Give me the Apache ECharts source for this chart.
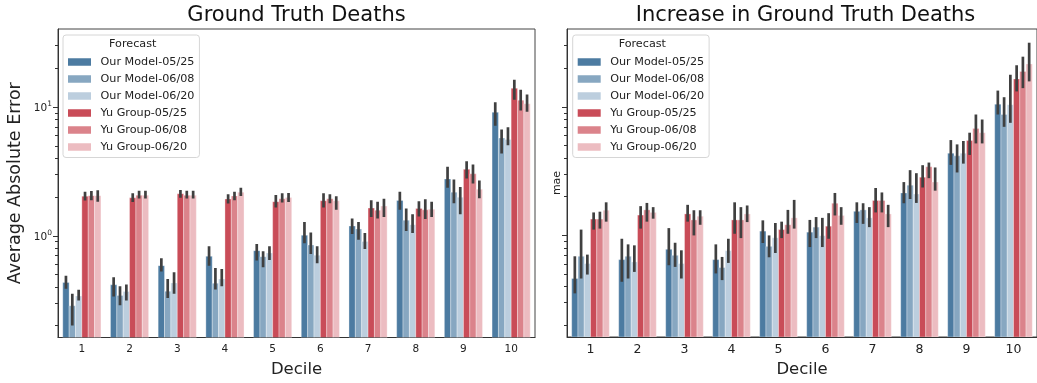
<!DOCTYPE html>
<html>
<head>
<meta charset="utf-8">
<script src="https://cdn.jsdelivr.net/npm/echarts@6/dist/echarts.min.js"></script>
<style>
html,body{margin:0;padding:0;background:#fff;}
#chart{width:1037px;height:383px;}
</style>
</head>
<body>
<div id="chart"></div>
<script>
// ---------- data ----------
const deciles = ['1','2','3','4','5','6','7','8','9','10'];
const seriesNames = ['Our Model-05/25','Our Model-06/08','Our Model-06/20','Yu Group-05/25','Yu Group-06/08','Yu Group-06/20'];
const seriesColors = ['#4c7ba1','#87a7c1','#bccede','#c94c58','#db838b','#ecbcc1'];
const majorTicks = [1, 10];
const minorTicks = [0.2,0.3,0.4,0.5,0.6,0.7,0.8,0.9,2,3,4,5,6,7,8,9,20,30];

// Ground Truth Deaths (mean, CI low, CI high)
const gtOM0525   = [0.433,0.416,0.586,0.692,0.766,1.01,1.19,1.88,2.76,9.10];
const gtOM0525Lo = [0.387,0.338,0.527,0.586,0.641,0.873,1.03,1.59,2.36,7.17];
const gtOM0525Hi = [0.49,0.476,0.668,0.828,0.863,1.28,1.36,2.20,3.44,10.9];
const gtOM0608   = [0.286,0.344,0.371,0.428,0.688,0.847,1.13,1.32,2.18,5.75];
const gtOM0608Lo = [0.201,0.288,0.328,0.382,0.569,0.721,0.931,1.09,1.79,4.35];
const gtOM0608Hi = [0.354,0.406,0.462,0.562,0.757,1.06,1.28,1.63,2.74,6.68];
const gtOM0620   = [0.34,0.369,0.43,0.462,0.734,0.705,0.904,1.22,1.99,5.59];
const gtOM0620Lo = [0.314,0.314,0.354,0.406,0.648,0.611,0.789,1.05,1.47,5.05];
const gtOM0620Hi = [0.38,0.418,0.52,0.552,0.828,0.828,1.05,1.47,2.39,6.96];
const gtYG0525   = [2.03,1.97,2.12,1.93,1.84,1.87,1.64,1.63,3.28,14.0];
const gtYG0525Lo = [1.88,1.83,1.97,1.78,1.66,1.66,1.40,1.41,2.79,11.4];
const gtYG0525Hi = [2.20,2.14,2.27,2.10,2.07,2.14,1.89,1.85,3.80,16.3];
const gtYG0608   = [2.05,2.06,2.06,2.04,1.94,1.94,1.58,1.59,3.03,11.3];
const gtYG0608Lo = [1.89,1.95,1.95,1.89,1.81,1.79,1.36,1.35,2.55,9.42];
const gtYG0608Hi = [2.23,2.24,2.24,2.20,2.14,2.10,1.84,1.92,3.58,13.6];
const gtYG0620   = [2.05,2.06,2.06,2.18,1.98,1.87,1.70,1.61,2.30,10.6];
const gtYG0620Lo = [1.84,1.95,1.95,2.04,1.83,1.59,1.40,1.40,1.96,9.2];
const gtYG0620Hi = [2.26,2.24,2.24,2.36,2.15,2.03,1.94,1.84,2.69,12.5];

// Increase in Ground Truth Deaths
const incOM0525   = [0.462,0.648,0.780,0.648,1.08,1.06,1.54,2.14,4.36,10.5];
const incOM0525Lo = [0.354,0.436,0.586,0.506,0.873,0.812,1.25,1.78,3.54,8.73];
const incOM0525Hi = [0.688,0.942,1.14,0.852,1.31,1.32,1.81,2.60,5.52,13.4];
const incOM0608   = [0.688,0.688,0.700,0.562,0.822,1.16,1.58,2.46,4.16,8.73];
const incOM0608Lo = [0.462,0.462,0.569,0.449,0.676,0.953,1.23,1.92,3.09,7.0];
const incOM0608Hi = [1.11,0.852,0.877,0.680,1.0,1.39,1.78,3.22,5.11,11.9];
const incOM0620   = [0.604,0.622,0.604,0.761,0.959,0.995,1.37,2.10,4.36,10.4];
const incOM0620Lo = [0.496,0.520,0.462,0.611,0.730,0.812,1.16,1.79,3.62,7.52];
const incOM0620Hi = [0.709,0.837,0.766,0.942,1.25,1.37,1.66,3.05,5.43,17.8];
const incYG0525   = [1.34,1.44,1.47,1.32,1.11,1.18,1.87,2.84,5.47,16.5];
const incYG0525Lo = [1.11,1.13,1.28,1.03,0.953,0.942,1.51,2.36,4.23,13.2];
const incYG0525Hi = [1.51,1.69,1.73,1.81,1.28,1.49,2.34,3.52,6.30,21.1];
const incYG0608   = [1.34,1.58,1.32,1.32,1.21,1.78,1.87,3.42,6.78,18.9];
const incYG0608Lo = [1.13,1.28,1.0,0.953,1.03,1.43,1.51,2.79,5.20,14.0];
const incYG0608Hi = [1.53,1.79,1.57,1.66,1.58,2.14,2.16,3.69,8.73,24.6];
const incYG0620   = [1.57,1.51,1.41,1.47,1.37,1.43,1.47,2.60,6.30,21.6];
const incYG0620Lo = [1.28,1.35,1.21,1.27,1.13,1.21,1.16,2.23,5.20,15.8];
const incYG0620Hi = [1.81,1.66,1.57,1.71,1.89,1.66,1.73,3.38,7.98,31.6];

const gtSets = [[gtOM0525,gtOM0525Lo,gtOM0525Hi],[gtOM0608,gtOM0608Lo,gtOM0608Hi],[gtOM0620,gtOM0620Lo,gtOM0620Hi],
                [gtYG0525,gtYG0525Lo,gtYG0525Hi],[gtYG0608,gtYG0608Lo,gtYG0608Hi],[gtYG0620,gtYG0620Lo,gtYG0620Hi]];
const incSets = [[incOM0525,incOM0525Lo,incOM0525Hi],[incOM0608,incOM0608Lo,incOM0608Hi],[incOM0620,incOM0620Lo,incOM0620Hi],
                 [incYG0525,incYG0525Lo,incYG0525Hi],[incYG0608,incYG0608Lo,incYG0608Hi],[incYG0620,incYG0620Lo,incYG0620Hi]];

// ---------- chart ----------
const FONT = 'DejaVu Sans';
const TXT = '#222';
const YMIN = 0.162, YMAX = 40.4;

function makeSeries(k, set, gridIdx) {
  const data = deciles.map((d, i) => [i, set[0][i], set[1][i], set[2][i]]);
  return {
    type: 'custom',
    name: seriesNames[k],
    xAxisIndex: gridIdx,
    yAxisIndex: gridIdx * 2,
    itemStyle: { color: seriesColors[k] },
    clip: true,
    encode: { x: 0, y: 1 },
    data: data,
    renderItem: function (params, api) {
      const c = api.value(0);
      const band = api.size([1, 1])[0];
      const bw = band * 0.8 / 6;
      const top = api.coord([c, api.value(1)]);
      const pLo = api.coord([c, api.value(2)]);
      const pHi = api.coord([c, api.value(3)]);
      const cs = params.coordSys;
      const bottom = cs.y + cs.height;
      const x = top[0] - band * 0.4 + k * bw;
      return {
        type: 'group',
        children: [
          { type: 'rect', shape: { x: x, y: top[1], width: bw, height: bottom - top[1] },
            style: { fill: api.visual('color'), stroke: 'rgba(255,255,255,0.55)', lineWidth: 0.6 } },
          { type: 'line', shape: { x1: x + bw / 2, y1: pLo[1], x2: x + bw / 2, y2: pHi[1] },
            style: { stroke: '#404040', lineWidth: 2.7 } }
        ]
      };
    }
  };
}

function xAxisCfg(gridIdx, fs, nameGap) {
  return {
    type: 'category', gridIndex: gridIdx, data: deciles,
    name: 'Decile', nameLocation: 'middle', nameGap: nameGap,
    nameTextStyle: { fontFamily: FONT, fontSize: 16.5, color: TXT },
    axisLine: { lineStyle: { color: '#333', width: 1 } },
    axisTick: { alignWithLabel: true, length: 3.5, lineStyle: { color: '#333' } },
    axisLabel: { fontFamily: FONT, fontSize: fs, color: TXT, margin: 6 },
    splitLine: { show: false }
  };
}

function yMajor(gridIdx, showLabels, name, nameGap, nameSize) {
  return {
    type: 'log', logBase: 10, gridIndex: gridIdx, min: YMIN, max: YMAX, position: 'left',
    name: name, nameLocation: 'middle', nameGap: nameGap, nameRotate: 90,
    nameTextStyle: { fontFamily: FONT, fontSize: nameSize, color: TXT },
    axisLine: { show: true, lineStyle: { color: '#333', width: 1 } },
    axisTick: { show: true, length: 5, lineStyle: { color: '#333' }, customValues: majorTicks },
    axisLabel: {
      show: showLabels, margin: 6, customValues: majorTicks,
      formatter: v => '{b|10}{s|' + Math.round(Math.log10(v)) + '}',
      rich: {
        b: { fontFamily: FONT, fontSize: 10.5, color: TXT, lineHeight: 14, verticalAlign: 'bottom' },
        s: { fontFamily: FONT, fontSize: 7.5, color: TXT, lineHeight: 8, verticalAlign: 'top' }
      }
    },
    splitLine: { show: false }
  };
}

function yMinor(gridIdx) {
  return {
    type: 'log', logBase: 10, gridIndex: gridIdx, min: YMIN, max: YMAX, position: 'left', offset: 0,
    axisLine: { show: false },
    axisTick: { show: true, length: 3, lineStyle: { color: '#333' }, customValues: minorTicks },
    axisLabel: { show: false },
    splitLine: { show: false }
  };
}

function legendCfg(left) {
  return {
    orient: 'vertical', left: left, top: 35,
    data: seriesNames, icon: 'rect', itemWidth: 23, itemHeight: 7.5, itemGap: 5,
    selectedMode: false,
    padding: [21, 5, 4.5, 5],
    backgroundColor: 'rgba(255,255,255,0.8)',
    borderColor: '#d6d6d6', borderWidth: 1, borderRadius: 3,
    formatter: name => '{t|' + name + '}',
    textStyle: {
      fontFamily: FONT, fontSize: 11.2, color: TXT, lineHeight: 12,
      rich: { t: { fontFamily: FONT, fontSize: 11.2, color: TXT, lineHeight: 12, padding: [0, 0, 0, 4.5] } }
    }
  };
}

const series = [];
gtSets.forEach((s, k) => series.push(makeSeries(k, s, 0)));
incSets.forEach((s, k) => series.push(makeSeries(k, s, 1)));

const chart = echarts.init(document.getElementById('chart'), null, { renderer: 'canvas' });
chart.setOption({
  animation: false,
  backgroundColor: '#fff',
  grid: [
    { left: 58, top: 29, width: 477, height: 310, show: true, borderColor: '#444', borderWidth: 1, backgroundColor: 'transparent' },
    { left: 567, top: 29, width: 477, height: 310, show: true, borderColor: '#444', borderWidth: 1, backgroundColor: 'transparent' }
  ],
  xAxis: [xAxisCfg(0, 10.5, 23.5), xAxisCfg(1, 12.5, 24)],
  yAxis: [
    yMajor(0, true, 'Average Absolute Error', 34, 17.5), yMinor(0),
    yMajor(1, false, 'mae', 4, 11), yMinor(1)
  ],
  legend: [legendCfg(63), legendCfg(572.7)],
  graphic: [
    { type: 'text', x: 296.5, y: 16, style: { text: 'Ground Truth Deaths', font: '21px "DejaVu Sans"', fill: '#111', textAlign: 'center', textVerticalAlign: 'middle' } },
    { type: 'text', x: 805.5, y: 16, style: { text: 'Increase in Ground Truth Deaths', font: '21px "DejaVu Sans"', fill: '#111', textAlign: 'center', textVerticalAlign: 'middle' } },
    { type: 'text', x: 132.7, y: 44.5, z: 100, style: { text: 'Forecast', font: '11.2px "DejaVu Sans"', fill: TXT, textAlign: 'center', textVerticalAlign: 'middle' } },
    { type: 'text', x: 642.3, y: 44.5, z: 100, style: { text: 'Forecast', font: '11.2px "DejaVu Sans"', fill: TXT, textAlign: 'center', textVerticalAlign: 'middle' } }
  ],
  series: series
});
</script>
</body>
</html>
